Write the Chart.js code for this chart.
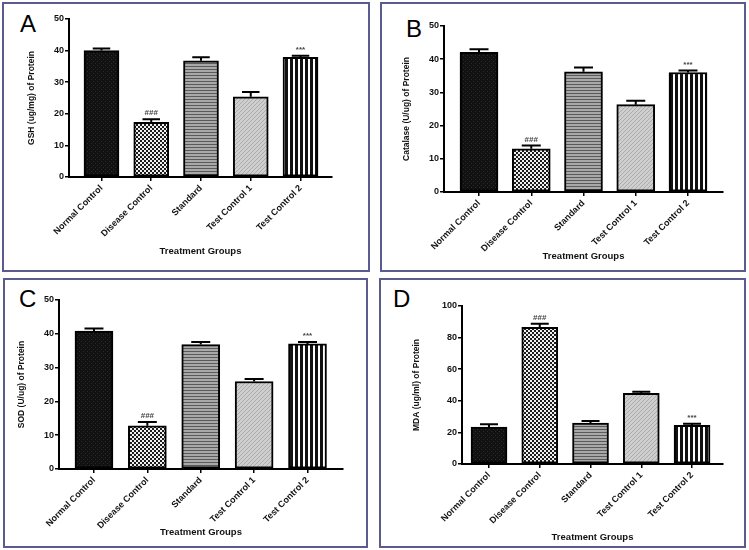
<!DOCTYPE html>
<html><head><meta charset="utf-8">
<script src="https://cdn.jsdelivr.net/npm/chart.js@4.4.1/dist/chart.umd.min.js"></script>
<style>
html,body{margin:0;padding:0;background:#fff;width:749px;height:550px;overflow:hidden;position:relative}
canvas{position:absolute;left:0;top:0}
.box{position:absolute;border:2px solid #5b5b8f;box-sizing:border-box}
.letter{position:absolute;font-family:"Liberation Sans",Arial,sans-serif;font-size:24px;color:#000;line-height:1}
</style></head><body>
<div class="box" style="left:2px;top:2px;width:368px;height:270px"></div>
<div class="box" style="left:380px;top:2px;width:366px;height:270px"></div>
<div class="box" style="left:3px;top:278px;width:365px;height:270px"></div>
<div class="box" style="left:379px;top:278px;width:367px;height:270px"></div>
<div class="letter" style="left:20px;top:12px">A</div>
<div class="letter" style="left:406px;top:17px">B</div>
<div class="letter" style="left:19px;top:287px">C</div>
<div class="letter" style="left:393px;top:287px">D</div>
<canvas id="cA" width="749" height="550"></canvas>
<canvas id="cB" width="749" height="550"></canvas>
<canvas id="cC" width="749" height="550"></canvas>
<canvas id="cD" width="749" height="550"></canvas>
<script>
// ---- data ----
const groups = ['Normal Control', 'Disease Control', 'Standard', 'Test Control 1', 'Test Control 2'];
const xAxisTitle = 'Treatment Groups';

const gshValues = [40.0, 17.3, 36.8, 25.4, 37.9];
const gshErrors = [0.7, 1.0, 1.1, 1.5, 0.5];
const gshMarks  = ['', '###', '', '', '***'];

const catalaseValues = [42.1, 13.0, 36.2, 26.3, 36.0];
const catalaseErrors = [0.9, 1.0, 1.3, 1.2, 0.6];
const catalaseMarks  = ['', '###', '', '', '***'];

const sodValues = [40.8, 12.8, 36.8, 25.9, 37.0];
const sodErrors = [0.8, 1.1, 0.8, 0.7, 0.6];
const sodMarks  = ['', '###', '', '', '***'];

const mdaValues = [23.4, 86.5, 25.9, 44.7, 24.5];
const mdaErrors = [1.7, 2.3, 1.3, 1.1, 1.0];
const mdaMarks  = ['', '###', '', '', '***'];

const gshTicks = [0, 10, 20, 30, 40, 50];
const catalaseTicks = [0, 10, 20, 30, 40, 50];
const sodTicks = [0, 10, 20, 30, 40, 50];
const mdaTicks = [0, 20, 40, 60, 80, 100];

// ---- styling / layout ----
const FONT = '"Liberation Sans", Arial, sans-serif';

function makePattern(kind) {
  const c = document.createElement('canvas');
  const x = c.getContext('2d');
  if (kind === 'solid') {
    c.width = 4; c.height = 4;
    x.fillStyle = '#111'; x.fillRect(0, 0, 4, 4);
    x.fillStyle = '#2c2c2c'; x.fillRect(1, 1, 1, 1); x.fillRect(3, 3, 1, 1);
  } else if (kind === 'check') {
    c.width = 4; c.height = 4;
    x.fillStyle = '#f0f0f0'; x.fillRect(0, 0, 4, 4);
    x.fillStyle = '#1c1c1c'; x.fillRect(0, 0, 2, 2); x.fillRect(2, 2, 2, 2);
  } else if (kind === 'hstripe') {
    c.width = 4; c.height = 3;
    x.fillStyle = '#a9a9a9'; x.fillRect(0, 0, 4, 3);
    x.fillStyle = '#5a5a5a'; x.fillRect(0, 0, 4, 1);
  } else if (kind === 'diag') {
    c.width = 4; c.height = 4;
    x.fillStyle = '#cfcfcf'; x.fillRect(0, 0, 4, 4);
    x.fillStyle = '#ababab';
    for (let i = 0; i < 4; i++) x.fillRect(i, 3 - i, 1, 1);
  } else if (kind === 'vstripe') {
    c.width = 5; c.height = 4;
    x.fillStyle = '#fff'; x.fillRect(0, 0, 5, 4);
    x.fillStyle = '#111'; x.fillRect(0, 0, 3, 4);
  }
  return x.createPattern(c, 'repeat');
}
const fills = ['solid', 'check', 'hstripe', 'diag', 'vstripe'].map(makePattern);

const errorBarPlugin = {
  id: 'errorBars',
  afterDatasetsDraw(chart) {
    const o = chart.options.plugins.errorBars;
    const ctx = chart.ctx;
    const ys = chart.scales.y;
    const meta = chart.getDatasetMeta(0);
    const ds = chart.data.datasets[0].data;
    ctx.save();
    meta.data.forEach((bar, i) => {
      const v = ds[i].y;
      const yTop = ys.getPixelForValue(v + o.errors[i]);
      const half = bar.width * 0.25;
      ctx.strokeStyle = '#000';
      ctx.lineWidth = 2;
      ctx.beginPath();
      ctx.moveTo(bar.x, bar.y); ctx.lineTo(bar.x, yTop);
      ctx.moveTo(bar.x - half, yTop); ctx.lineTo(bar.x + half, yTop);
      ctx.stroke();
      if (o.marks[i]) {
        ctx.fillStyle = '#444';
        ctx.font = 'bold 8px ' + FONT;
        ctx.textAlign = 'center';
        ctx.textBaseline = 'bottom';
        ctx.fillText(o.marks[i], bar.x, yTop - 2);
      }
    });
    ctx.restore();
  }
};

const panels = [
  {canvas: 'cA', values: gshValues, errors: gshErrors, marks: gshMarks, ticks: gshTicks,
   yTitle: 'GSH (ug/mg) of Protein',
   padL: 27, yW: 42, padT: 19, padR: 417, xH: 80, padB: 293, xMin: -0.653, xMax: 4.633, barW: 35},
  {canvas: 'cB', values: catalaseValues, errors: catalaseErrors, marks: catalaseMarks, ticks: catalaseTicks,
   yTitle: 'Catalase (U/ug) of Protein',
   padL: 402, yW: 42, padT: 26, padR: 26, xH: 70, padB: 288, xMin: -0.67, xMax: 4.67, barW: 38},
  {canvas: 'cC', values: sodValues, errors: sodErrors, marks: sodMarks, ticks: sodTicks,
   yTitle: 'SOD (U/ug) of Protein',
   padL: 17, yW: 42, padT: 300, padR: 406, xH: 69, padB: 12, xMin: -0.655, xMax: 4.665, barW: 38},
  {canvas: 'cD', values: mdaValues, errors: mdaErrors, marks: mdaMarks, ticks: mdaTicks,
   yTitle: 'MDA (ug/ml) of Protein',
   padL: 412, yW: 50, padT: 306, padR: 26, xH: 79, padB: 7, xMin: -0.532, xMax: 4.61, barW: 36}
];

panels.forEach(p => {
  new Chart(document.getElementById(p.canvas), {
    type: 'bar',
    data: {
      datasets: [{
        data: p.values.map((v, i) => ({x: i, y: v})),
        backgroundColor: fills,
        borderColor: '#000',
        borderWidth: 2,
        borderSkipped: false,
        barThickness: p.barW
      }]
    },
    options: {
      responsive: false,
      animation: false,
      events: [],
      layout: {padding: {left: p.padL, top: p.padT, right: p.padR, bottom: p.padB}},
      plugins: {
        legend: {display: false},
        tooltip: {enabled: false},
        errorBars: {errors: p.errors, marks: p.marks}
      },
      scales: {
        x: {
          type: 'linear',
          offset: false,
          min: p.xMin, max: p.xMax,
          afterBuildTicks: s => { s.ticks = groups.map((g, i) => ({value: i})); },
          afterFit: s => { s.height = p.xH; },
          ticks: {
            autoSkip: false, minRotation: 45, maxRotation: 45, padding: 2,
            color: '#111', font: {family: FONT, size: 9, weight: 'bold'},
            callback: v => groups[v] !== undefined ? groups[v] : ''
          },
          grid: {offset: false, drawOnChartArea: false, drawTicks: true, tickLength: 4, color: '#000', lineWidth: 1.5},
          border: {display: true, color: '#000', width: 2},
          title: {display: true, text: xAxisTitle, color: '#111',
                  font: {family: FONT, size: 9.5, weight: 'bold'}, padding: {top: 0, bottom: 0}}
        },
        y: {
          min: p.ticks[0], max: p.ticks[p.ticks.length - 1],
          afterBuildTicks: s => { s.ticks = p.ticks.map(v => ({value: v})); },
          afterFit: s => { s.width = p.yW; },
          ticks: {padding: 1, color: '#111', font: {family: FONT, size: 9, weight: 'bold'}},
          grid: {drawOnChartArea: false, drawTicks: true, tickLength: 4, color: '#000', lineWidth: 1.5},
          border: {display: true, color: '#000', width: 2},
          title: {display: true, text: p.yTitle, color: '#111',
                  font: {family: FONT, size: 8.5, weight: 'bold'}, padding: {top: 0, bottom: 0}}
        }
      }
    },
    plugins: [errorBarPlugin]
  });
});
</script>
</body></html>
